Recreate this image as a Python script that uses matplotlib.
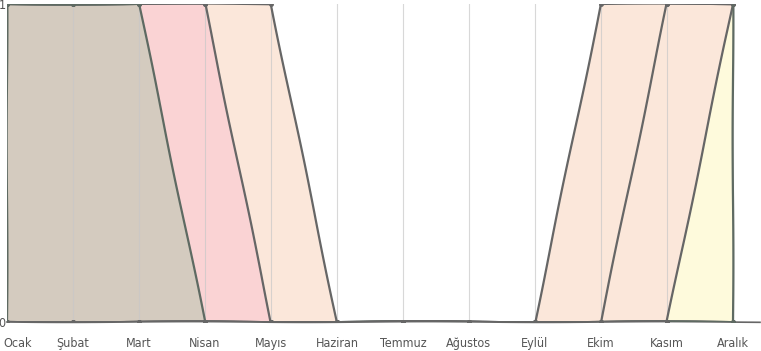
import matplotlib
matplotlib.use("Agg")
import matplotlib.pyplot as plt
import matplotlib.transforms as mtransforms

months = ["Ocak", "Şubat", "Mart", "Nisan", "Mayıs", "Haziran",
          "Temmuz", "Ağustos", "Eylül", "Ekim", "Kasım", "Aralık"]

# one 0/1 series per band, left side then right side
winter_a = [1, 1, 1, 0, 0, 0, 0, 0, 0, 0, 0, 0]
winter_b = [1, 1, 1, 1, 0, 0, 0, 0, 0, 0, 0, 0]
winter_c = [1, 1, 1, 1, 1, 0, 0, 0, 0, 0, 0, 0]
autumn_a = [0, 0, 0, 0, 0, 0, 0, 0, 0, 1, 1, 1]
autumn_b = [0, 0, 0, 0, 0, 0, 0, 0, 0, 0, 1, 1]
autumn_c = [0, 0, 0, 0, 0, 0, 0, 0, 0, 0, 0, 1]

plt.rcParams["font.family"] = ["DejaVu Sans"]
plt.rcParams["font.stretch"] = "condensed"

fig = plt.figure(figsize=(7.61, 3.51), dpi=100)
ax = fig.add_axes([7 / 761, 29 / 351, 753 / 761, 318 / 351])

x = list(range(len(months)))

# drawn back to front so the front band hides the one behind
layers = [
    (winter_c, "#fbe7da", "#666666"),
    (winter_b, "#fad3d4", "#666666"),
    (winter_a, "#d4cbbf", "#5e6a62"),
    (autumn_a, "#fbe7da", "#666666"),
    (autumn_b, "#fbe7da", "#666666"),
    (autumn_c, "#fefadc", "#666666"),
]

for i, (vals, face, edge) in enumerate(layers):
    ax.fill_between(x, vals, 0, facecolor=face, edgecolor="none", zorder=1 + i * 0.01)
    ln, = ax.plot(x, vals, color=edge, lw=1.6, marker="o", ms=2.5, zorder=3 + i * 0.01)
    ln.set_sketch_params(0.5, 250, 1.5)

# vertical edges of the outer bands
for vals in (winter_a, autumn_c):
    idx = [k for k, v in enumerate(vals) if v > 0]
    edge_x = idx[0] if vals is winter_a else idx[-1]
    ln, = ax.plot([x[edge_x], x[edge_x]], [0, vals[edge_x]], color="#5e6a62", lw=1.6, zorder=3.5)
    ln.set_sketch_params(0.4, 250, 1.5)

ax.set_xlim(0, 11.41)
ax.set_ylim(0, 1)
ax.set_xticks(x)
ax.set_xticklabels(months)
ax.set_yticks([0, 1])
ax.tick_params(length=0, labelsize=9, labelcolor="#555555")
ax.tick_params(axis="x", pad=11)
ax.tick_params(axis="y", pad=1)

# nudge the first month label so it stays inside the figure
first = ax.get_xticklabels()[0]
first.set_transform(first.get_transform() + mtransforms.ScaledTranslation(11 / 100, 0, fig.dpi_scale_trans))

ax.grid(axis="x", color="#c8c8c8", lw=0.8, alpha=0.7)
ax.set_axisbelow(False)
for s in ("top", "right", "left"):
    ax.spines[s].set_visible(False)
ax.spines["bottom"].set_color("#666666")
ax.spines["bottom"].set_linewidth(1.2)
ax.spines["bottom"].set_sketch_params(0.4, 250, 1.5)
ax.spines["bottom"].set_zorder(2.9)

fig.savefig("out.png", dpi=100)
